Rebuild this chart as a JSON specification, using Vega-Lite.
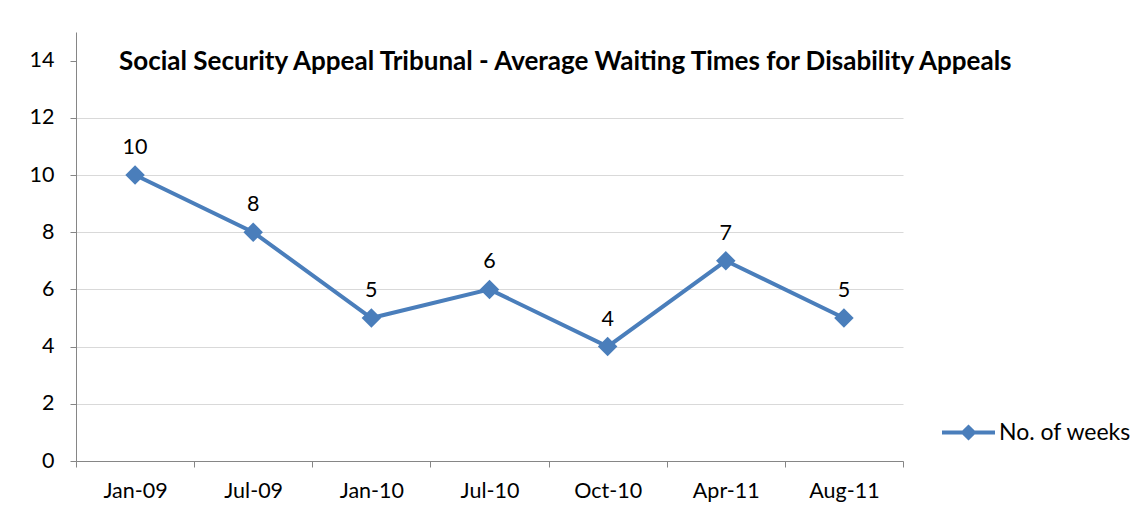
{
  "$schema": "https://vega.github.io/schema/vega-lite/v6.json",
  "autosize": "none",
  "width": 827,
  "height": 429,
  "padding": {"left": 76, "top": 32, "right": 236, "bottom": 61},
  "background": "white",
  "config": {
    "view": {"stroke": null},
    "font": "Lato"
  },
  "title": {
    "text": "Social Security Appeal Tribunal - Average Waiting Times for Disability Appeals",
    "font": "Lato",
    "fontSize": 26,
    "fontWeight": "bold",
    "color": "#000000",
    "anchor": "start",
    "frame": "group",
    "orient": "top",
    "offset": 0,
    "baseline": "middle",
    "dx": 43,
    "dy": 56
  },
  "data": {
    "values": [
      {"month": "Jan-09", "weeks": 10, "series": "No. of weeks"},
      {"month": "Jul-09", "weeks": 8, "series": "No. of weeks"},
      {"month": "Jan-10", "weeks": 5, "series": "No. of weeks"},
      {"month": "Jul-10", "weeks": 6, "series": "No. of weeks"},
      {"month": "Oct-10", "weeks": 4, "series": "No. of weeks"},
      {"month": "Apr-11", "weeks": 7, "series": "No. of weeks"},
      {"month": "Aug-11", "weeks": 5, "series": "No. of weeks"}
    ]
  },
  "encoding": {
    "x": {
      "field": "month",
      "type": "nominal",
      "sort": null,
      "scale": {"type": "band", "paddingInner": 0, "paddingOuter": 0},
      "axis": {
        "title": null,
        "labelAngle": 0,
        "labelFont": "Lato",
        "labelFontSize": 21.5,
        "labelColor": "#000000",
        "labelPadding": 13,
        "domainColor": "#868686",
        "tickColor": "#868686",
        "tickSize": 6,
        "tickBand": "extent",
        "grid": false
      }
    },
    "y": {
      "field": "weeks",
      "type": "quantitative",
      "scale": {"domain": [0, 15], "nice": false},
      "axis": {
        "title": null,
        "values": [0, 2, 4, 6, 8, 10, 12, 14],
        "labelFont": "Lato",
        "labelFontSize": 21.5,
        "labelColor": "#000000",
        "labelPadding": 16,
        "domainColor": "#868686",
        "tickColor": "#868686",
        "tickSize": 6,
        "gridColor": "#d9d9d9",
        "gridWidth": 1,
        "gridOpacity": {"condition": {"test": "datum.value == 14", "value": 0}, "value": 1}
      }
    }
  },
  "layer": [
    {
      "mark": {"type": "line", "color": "#4A7EBB", "strokeWidth": 4},
      "encoding": {}
    },
    {
      "mark": {"type": "point", "shape": "diamond", "filled": true, "size": 380, "opacity": 1},
      "encoding": {
        "color": {
          "field": "series",
          "type": "nominal",
          "scale": {"range": ["#4A7EBB"]},
          "legend": {
            "title": null,
            "orient": "none",
            "legendX": 866,
            "legendY": 374,
            "symbolType": "M-1,-0.075 L-0.23,-0.075 L0,-0.3 L0.23,-0.075 L1,-0.075 L1,0.075 L0.23,0.075 L0,0.3 L-0.23,0.075 L-1,0.075 Z",
            "symbolSize": 2809,
            "symbolFillColor": "#4A7EBB",
            "symbolStrokeWidth": 0,
            "labelFont": "Lato",
            "labelFontSize": 23,
            "labelColor": "#000000",
            "labelOffset": 4
          }
        }
      }
    },
    {
      "mark": {"type": "text", "dy": -27, "font": "Lato", "fontSize": 21.5, "color": "#000000"},
      "encoding": {"text": {"field": "weeks", "type": "quantitative"}}
    }
  ]
}
